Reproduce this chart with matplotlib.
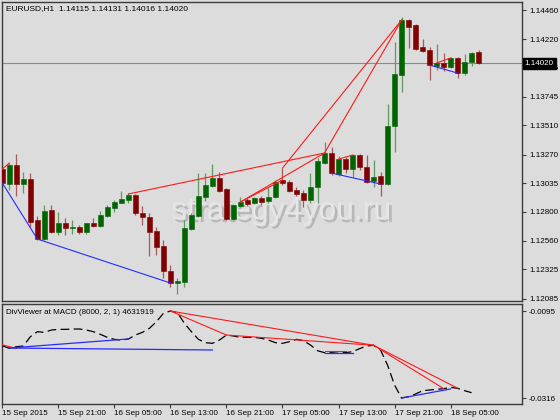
import numpy as np
import matplotlib
matplotlib.use("Agg")
import matplotlib.pyplot as plt
import matplotlib.transforms as mtransforms
import matplotlib.patheffects as pe

# ─────────────────────────────
# Data (EURUSD H1, 15-18 Sep 2015)
# ─────────────────────────────
symbol = "EURUSD,H1"

opens = [1.13151, 1.13028, 1.13184, 1.13028, 1.13068, 1.12731, 1.12575, 1.12814, 1.12633, 1.12707,
         1.12666, 1.12674, 1.12633, 1.12707, 1.12682, 1.12764, 1.12830, 1.12871, 1.12896, 1.12937,
         1.12789, 1.12756, 1.12641, 1.12517, 1.12309, 1.12213, 1.12224, 1.12657, 1.12764, 1.12921,
         1.13011, 1.13077, 1.12987, 1.12740, 1.12847, 1.12896, 1.12871, 1.12912, 1.12888, 1.12921,
         1.13060, 1.13044, 1.12979, 1.12954, 1.12896, 1.13003, 1.13200, 1.13283, 1.13110, 1.13233,
         1.13151, 1.13266, 1.13168, 1.13052, 1.13093, 1.13028, 1.13505, 1.13925, 1.14377, 1.14336,
         1.14155, 1.14130, 1.13999, 1.14024, 1.13991, 1.14065, 1.13941, 1.14032, 1.14115]
highs = [1.13184, 1.13200, 1.13275, 1.13126, 1.13118, 1.12764, 1.12855, 1.12855, 1.12797, 1.12748,
         1.12731, 1.12690, 1.12707, 1.12748, 1.12805, 1.12855, 1.12896, 1.12970, 1.12954, 1.12946,
         1.12847, 1.12789, 1.12674, 1.12567, 1.12363, 1.12253, 1.12731, 1.12789, 1.13118, 1.13118,
         1.13192, 1.13126, 1.12995, 1.12863, 1.12921, 1.12912, 1.12921, 1.12929, 1.13003, 1.13060,
         1.13159, 1.13060, 1.13003, 1.12979, 1.13118, 1.13242, 1.13373, 1.13332, 1.13258, 1.13250,
         1.13275, 1.13275, 1.13266, 1.13225, 1.13126, 1.13686, 1.14196, 1.14402, 1.14386, 1.14345,
         1.14221, 1.14155, 1.14180, 1.14106, 1.14073, 1.14073, 1.14098, 1.14114, 1.14131]
lows = [1.12962, 1.12979, 1.12929, 1.12954, 1.12674, 1.12567, 1.12567, 1.12624, 1.12608, 1.12608,
        1.12616, 1.12616, 1.12616, 1.12674, 1.12674, 1.12756, 1.12797, 1.12871, 1.12871, 1.12772,
        1.12690, 1.12435, 1.12443, 1.12253, 1.12180, 1.12123, 1.12180, 1.12649, 1.12756, 1.12888,
        1.13003, 1.12962, 1.12731, 1.12731, 1.12838, 1.12847, 1.12863, 1.12855, 1.12871, 1.12912,
        1.13019, 1.12962, 1.12929, 1.12838, 1.12871, 1.12871, 1.13192, 1.13102, 1.13093, 1.13118,
        1.13085, 1.13143, 1.13036, 1.13003, 1.12929, 1.13019, 1.13291, 1.13785, 1.14147, 1.14130,
        1.14114, 1.13884, 1.13966, 1.13958, 1.13983, 1.13900, 1.13925, 1.13999, 1.14016]
closes = [1.13036, 1.13184, 1.13028, 1.13068, 1.12715, 1.12575, 1.12805, 1.12633, 1.12707, 1.12666,
          1.12674, 1.12633, 1.12707, 1.12682, 1.12772, 1.12838, 1.12880, 1.12904, 1.12937, 1.12789,
          1.12756, 1.12633, 1.12509, 1.12309, 1.12213, 1.12229, 1.12666, 1.12772, 1.12929, 1.13019,
          1.13077, 1.12970, 1.12740, 1.12855, 1.12880, 1.12863, 1.12912, 1.12880, 1.12921, 1.13044,
          1.13036, 1.12970, 1.12946, 1.12896, 1.13003, 1.13217, 1.13283, 1.13118, 1.13233, 1.13151,
          1.13266, 1.13168, 1.13044, 1.13085, 1.13028, 1.13505, 1.13933, 1.14377, 1.14320, 1.14139,
          1.14122, 1.14007, 1.14024, 1.13991, 1.14065, 1.13941, 1.14032, 1.14106, 1.14020]

macd = [-0.01831, -0.01898, -0.01856, -0.01839, -0.01602, -0.01475, -0.01492, -0.01433, -0.01416, -0.01416,
        -0.01407, -0.01407, -0.01433, -0.01475, -0.01543, -0.01619, -0.01670, -0.01687, -0.01661, -0.01560,
        -0.01492, -0.01390, -0.01221, -0.01009, -0.00950, -0.00992, -0.01263, -0.01475, -0.01670, -0.01754,
        -0.01771, -0.01687, -0.01560, -0.01585, -0.01619, -0.01619, -0.01619, -0.01644, -0.01687, -0.01754,
        -0.01771, -0.01729, -0.01670, -0.01704, -0.01814, -0.01958, -0.02008, -0.02000, -0.01983, -0.02008,
        -0.01983, -0.01907, -0.01839, -0.01822, -0.01941, -0.02322, -0.02830, -0.03160, -0.03126, -0.03058,
        -0.02974, -0.02957, -0.02940, -0.02923, -0.02889, -0.02914, -0.02974, -0.03024, np.nan]

# divergence lines: (bar1, value1, bar2, value2)
price_div_red = [(0, 1.13151, 1, 1.13200), (18, 1.12946, 46, 1.13283), (34, 1.12880, 46, 1.13283),
                 (34, 1.12880, 40, 1.13060), (46, 1.13283, 57, 1.14377), (40, 1.13159, 57, 1.14377),
                 (48, 1.13233, 50, 1.13266), (62, 1.14024, 64, 1.14065)]
price_div_blue = [(0, 1.13036, 5, 1.12575), (5, 1.12575, 24, 1.12213),
                  (47, 1.13118, 54, 1.13028), (61, 1.14007, 65, 1.13941)]
macd_div_red = [(0, -0.0181, 2, -0.0190), (24, -0.0095, 32, -0.0156), (24, -0.0095, 53, -0.0182),
                (32, -0.0156, 53, -0.0182), (46, -0.0197, 49, -0.0197),
                (53, -0.0182, 63, -0.0292), (53, -0.0182, 65, -0.0291)]
macd_div_blue = [(1, -0.0189, 30, -0.0194), (1, -0.0189, 18, -0.0166),
                 (46, -0.0202, 50, -0.0202), (57, -0.0316, 64, -0.0293)]

price_ticks = [1.14460, 1.14220, 1.13985, 1.13745, 1.13510, 1.13270, 1.13035, 1.12800, 1.12560, 1.12325, 1.12085]
macd_ticks = [-0.0095, -0.0316]
time_ticks = [0, 8, 16, 24, 32, 40, 48, 56, 64]
time_labels = ["15 Sep 2015", "15 Sep 21:00", "16 Sep 05:00", "16 Sep 13:00", "16 Sep 21:00",
               "17 Sep 05:00", "17 Sep 13:00", "17 Sep 21:00", "18 Sep 05:00"]
macd_title = "DivViewer at MACD (8000, 2, 1) 4631919"
watermark = "strategy4you.ru"

# ─────────────────────────────
# Style
# ─────────────────────────────
BG = "#dcdcdc"
FRAME = "#3c3c3c"
BULL, BEAR = "#006400", "#800000"
BULL_WICK, BEAR_WICK = "#5f9a5f", "#a65a5a"
plt.rcParams["font.family"] = ["Liberation Sans", "DejaVu Sans"]
FS = 5.8

W, H = 560, 420
fig = plt.figure(figsize=(W / 100, H / 100), dpi=100, facecolor=BG)
ax = fig.add_axes([2 / W, (H - 301) / H, 520 / W, 299 / H], facecolor=BG)
ax2 = fig.add_axes([2 / W, (H - 404) / H, 520 / W, 100.5 / H], facecolor=BG)

x = np.arange(len(opens))
o, h, l, c = map(np.array, (opens, highs, lows, closes))
up = c >= o

# ─────────────────────────────
# Price panel
# ─────────────────────────────
ax.vlines(x[up], l[up], h[up], color=BULL_WICK, lw=0.9, zorder=2)
ax.vlines(x[~up], l[~up], h[~up], color=BEAR_WICK, lw=0.9, zorder=2)
body_h = np.maximum(np.abs(c - o), 0.00002)
ax.bar(x, body_h, bottom=np.minimum(o, c), width=0.68,
       color=np.where(up, BULL, BEAR), edgecolor=np.where(up, BULL, BEAR), lw=0.4, zorder=3)

for i1, v1, i2, v2 in price_div_red:
    ax.plot([i1, i2], [v1, v2], color="#ff1a1a", lw=0.8, zorder=4)
for i1, v1, i2, v2 in price_div_blue:
    ax.plot([i1, i2], [v1, v2], color="#2a2aff", lw=0.8, zorder=4)

ax.axhline(closes[-1], color="#7d8ea0", lw=0.8, zorder=1)

ax.text(0.537, 0.30, watermark, transform=ax.transAxes, ha="center", va="center",
        fontsize=23, color="#e6e6e6", zorder=0.5,
        path_effects=[pe.SimplePatchShadow(offset=(2, -2), shadow_rgbFace="#a8a8a8", alpha=0.7),
                      pe.Normal()])

ax.set_xlim(-0.05, 74.2)
ax.set_ylim(1.12065, 1.14526)
ax.set_xticks([])
ax.yaxis.tick_right()
ax.set_yticks(price_ticks)
ax.set_yticklabels([f"{v:.5f}" for v in price_ticks])
ax.tick_params(axis="y", direction="out", length=3, width=0.8, color=FRAME, pad=2,
               labelsize=FS, labelcolor="black")
ax.text(0.0077, 0.977, f"{symbol}  {opens[-1]:.5f} {highs[-1]:.5f} {lows[-1]:.5f} {closes[-1]:.5f}",
        transform=ax.transAxes, ha="left", va="center", fontsize=FS + 0.2, color="black")

trans = mtransforms.blended_transform_factory(ax.transAxes, ax.transData)
ax.text(1.005, closes[-1], f"{closes[-1]:.5f}", transform=trans, ha="left", va="center",
        fontsize=FS, color="white", zorder=10, clip_on=False,
        bbox=dict(boxstyle="square,pad=0.25", fc="black", ec="black"))

# ─────────────────────────────
# Indicator panel
# ─────────────────────────────
ax2.plot(x, macd, color="black", lw=0.9, dashes=(7, 3.5), zorder=3)
for i1, v1, i2, v2 in macd_div_red:
    ax2.plot([i1, i2], [v1, v2], color="#ff1a1a", lw=0.8, zorder=4)
for i1, v1, i2, v2 in macd_div_blue:
    ax2.plot([i1, i2], [v1, v2], color="#2a2aff", lw=0.9, zorder=4)

ax2.set_xlim(-0.05, 74.2)
ax2.set_ylim(-0.03312, -0.00759)
ax2.yaxis.tick_right()
ax2.set_yticks(macd_ticks)
ax2.set_yticklabels([f"{v:.4f}" for v in macd_ticks])
ax2.set_xticks(time_ticks)
ax2.set_xticklabels(time_labels)
for lab in ax2.get_xticklabels():
    lab.set_ha("left")
ax2.tick_params(axis="both", direction="out", length=3, width=0.8, color=FRAME, pad=1.5,
                labelsize=FS, labelcolor="black")
ax2.text(0.0077, 0.915, macd_title, transform=ax2.transAxes, ha="left", va="center",
         fontsize=FS, color="black")

for a in (ax, ax2):
    for s in a.spines.values():
        s.set_color(FRAME)
        s.set_linewidth(1.0)

plt.savefig("out.png", dpi=100, facecolor=BG)
plt.close()
